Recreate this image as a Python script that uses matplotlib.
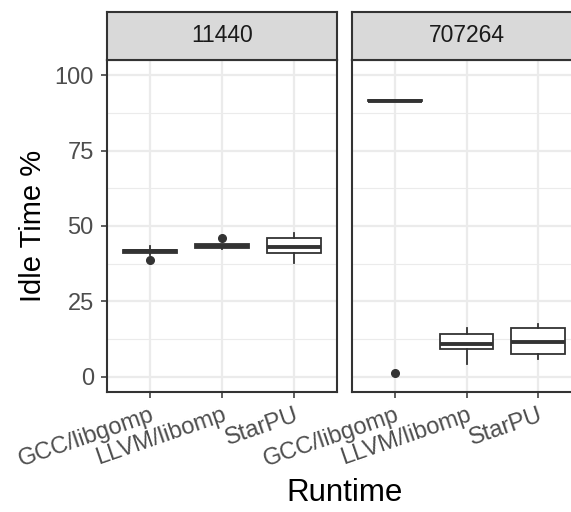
import matplotlib
matplotlib.use("Agg")
import matplotlib.pyplot as plt

plt.rcParams["font.family"] = ["Liberation Sans", "DejaVu Sans"]

runtimes = ["GCC/libgomp", "LLVM/libomp", "StarPU"]
panels = ["11440", "707264"]

# box stats per panel, in runtime order
med = {"11440": [41.6, 43.3, 43.2], "707264": [91.5, 10.9, 11.6]}
q1 = {"11440": [41.0, 42.6, 41.2], "707264": [91.3, 9.4, 7.6]}
q3 = {"11440": [42.2, 44.0, 46.1], "707264": [91.7, 14.1, 16.2]}
whislo = {"11440": [40.5, 42.3, 37.9], "707264": [91.3, 4.2, 6.0]}
whishi = {"11440": [43.4, 44.0, 47.6], "707264": [91.7, 16.3, 17.4]}
fliers = {"11440": [[38.9], [46.1], []], "707264": [[1.2], [], []]}

W, H = 571, 512
fig = plt.figure(figsize=(W / 100, H / 100), dpi=100)

dark = "#333333"
grid = "#EBEBEB"
panel_lefts = [107, 351.5]
pw = 230
top, bottom = 60, 392
strip_top = 12

for i, p in enumerate(panels):
    ax = fig.add_axes([panel_lefts[i] / W, (H - bottom) / H, pw / W, (bottom - top) / H])
    stats = []
    for j, r in enumerate(runtimes):
        stats.append(dict(med=med[p][j], q1=q1[p][j], q3=q3[p][j],
                          whislo=whislo[p][j], whishi=whishi[p][j],
                          fliers=fliers[p][j], label=r))
    ax.bxp(stats, positions=[1, 2, 3], widths=0.75, showcaps=False,
           patch_artist=True,
           boxprops=dict(facecolor="white", edgecolor=dark, linewidth=1.3),
           medianprops=dict(color=dark, linewidth=2.8, solid_capstyle="butt"),
           whiskerprops=dict(color=dark, linewidth=1.3),
           flierprops=dict(marker="o", markerfacecolor=dark, markeredgecolor=dark,
                           markersize=5.5))
    ax.set_xlim(0.4, 3.6)
    ax.set_ylim(-5, 105)
    ax.set_yticks([0, 25, 50, 75, 100])
    ax.set_yticks([12.5, 37.5, 62.5, 87.5], minor=True)
    ax.set_xticks([1, 2, 3])
    ax.set_xticklabels(runtimes, rotation=19, ha="right", va="top",
                       rotation_mode="anchor")
    ax.grid(True, which="major", color=grid, linewidth=1.6)
    ax.grid(True, which="minor", axis="y", color=grid, linewidth=0.8)
    ax.set_axisbelow(True)
    ax.tick_params(which="minor", length=0)
    ax.tick_params(which="major", length=4.5, width=1.1, color=dark,
                   labelsize=17, labelcolor="#4D4D4D")
    ax.tick_params(axis="y", pad=5)
    ax.tick_params(axis="x", pad=4)
    for s in ax.spines.values():
        s.set_color(dark)
        s.set_linewidth(1.5)
    if i == 0:
        ax.set_ylabel("Idle Time %", fontsize=21, labelpad=5)
    else:
        ax.tick_params(axis="y", labelleft=False, length=0)

    sax = fig.add_axes([panel_lefts[i] / W, (H - top) / H, pw / W, (top - strip_top) / H])
    sax.set_facecolor("#D9D9D9")
    sax.set_xticks([])
    sax.set_yticks([])
    for s in sax.spines.values():
        s.set_color(dark)
        s.set_linewidth(1.5)
    sax.text(0.5, 0.5, p, ha="center", va="center", fontsize=16.5,
             color="#1A1A1A", transform=sax.transAxes)

fig.text((107 + 581.5) / 2 / W, 1 - 493 / H, "Runtime", ha="center", va="center",
         fontsize=22.5)

fig.savefig("out.png", dpi=100)
